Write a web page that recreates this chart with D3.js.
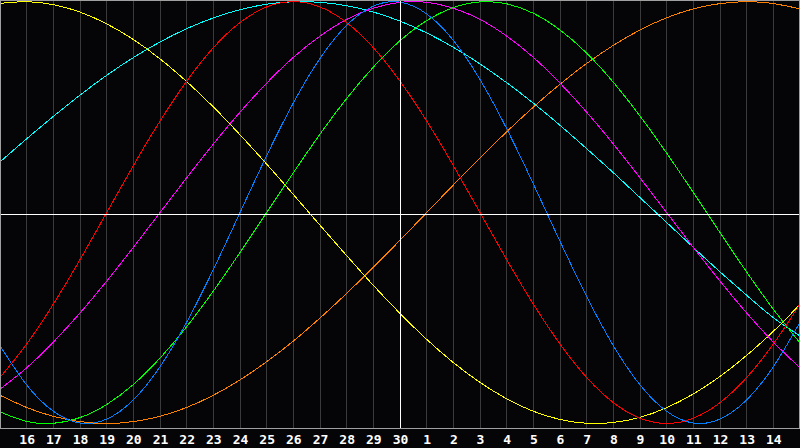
<!DOCTYPE html>
<html><head><meta charset="utf-8">
<script src="https://cdn.jsdelivr.net/npm/d3@7/dist/d3.min.js"></script>
<style>html,body{margin:0;padding:0;background:#050508;overflow:hidden}</style>
</head><body>
<script>
// day labels at grid positions t = 1..29 (t = 0 is day 15, t = 15 is today = 30)
const dayLabels = [16,17,18,19,20,21,22,23,24,25,26,27,28,29,30,1,2,3,4,5,6,7,8,9,10,11,12,13,14];
const todayIndex = 15;
// daily values, t = 0..30
const physical   = [-0.631,-0.817,-0.942,-0.998,-0.979,-0.888,-0.731,-0.520,-0.270,0,0.270,0.520,0.731,0.888,0.979,0.998,0.942,0.817,0.631,0.398,0.136,-0.136,-0.398,-0.631,-0.817,-0.942,-0.998,-0.979,-0.888,-0.731,-0.520];
const emotional  = [-0.782,-0.623,-0.434,-0.223,0,0.223,0.434,0.623,0.782,0.901,0.975,1,0.975,0.901,0.782,0.623,0.434,0.223,0,-0.223,-0.434,-0.623,-0.782,-0.901,-0.975,-1,-0.975,-0.901,-0.782,-0.623,-0.434];
const intellectual = [-0.945,-0.990,-0.999,-0.972,-0.910,-0.815,-0.690,-0.541,-0.372,-0.189,0,0.189,0.372,0.541,0.690,0.815,0.910,0.972,0.999,0.990,0.945,0.866,0.756,0.618,0.458,0.282,0.095,-0.095,-0.282,-0.458,-0.618];
const intuitive  = [-0.837,-0.736,-0.614,-0.476,-0.325,-0.165,0,0.165,0.325,0.476,0.614,0.736,0.837,0.916,0.969,0.997,0.997,0.969,0.916,0.837,0.736,0.614,0.476,0.325,0.165,0,-0.165,-0.325,-0.476,-0.614,-0.736];
const aesthetic  = [0.992,1.000,0.986,0.951,0.895,0.821,0.729,0.621,0.501,0.369,0.230,0.086,-0.060,-0.204,-0.345,-0.478,-0.601,-0.711,-0.805,-0.883,-0.942,-0.981,-0.999,-0.995,-0.971,-0.925,-0.860,-0.777,-0.677,-0.563,-0.436];
const awareness  = [-0.866,-0.924,-0.966,-0.991,-1,-0.991,-0.966,-0.924,-0.866,-0.793,-0.707,-0.609,-0.5,-0.383,-0.259,-0.131,0,0.131,0.259,0.383,0.5,0.609,0.707,0.793,0.866,0.924,0.966,0.991,1,0.991,0.966];
const spiritual  = [0.240,0.350,0.456,0.557,0.651,0.735,0.809,0.872,0.923,0.962,0.988,1.000,0.997,0.981,0.951,0.908,0.852,0.784,0.705,0.616,0.519,0.414,0.303,0.189,0.071,-0.047,-0.165,-0.281,-0.392,-0.498,-0.585];

const series = [
  {name:"awareness", values:awareness, color:"#ff8000"},
  {name:"spiritual", values:spiritual, color:"#00ffff"},
  {name:"aesthetic", values:aesthetic, color:"#ffff00"},
  {name:"intuitive", values:intuitive, color:"#ff00ff"},
  {name:"intellectual", values:intellectual, color:"#00ff00"},
  {name:"emotional", values:emotional, color:"#ff0000"},
  {name:"physical", values:physical, color:"#0080ff"}
];

const W = 800, H = 448, plotB = 428;
const x = d3.scaleLinear().domain([0,30]).range([0,800]);
const y = d3.scaleLinear().domain([-1,1]).range([423.5,1.7]);

const svg = d3.select("body").append("svg").attr("width",W).attr("height",H)
  .style("display","block").style("background","#050508");

svg.append("rect").attr("x",0).attr("y",0).attr("width",W).attr("height",H).attr("fill","#050508");

// vertical grid
svg.append("g").selectAll("line").data(d3.range(1,30)).join("line")
  .attr("x1",d=>Math.floor(x(d))+0.5).attr("x2",d=>Math.floor(x(d))+0.5)
  .attr("y1",0).attr("y2",plotB)
  .attr("stroke","#3a3a3a").attr("stroke-width",1).attr("shape-rendering","crispEdges");

// curves
const line = d3.line().x((d,i)=>x(i)).y(d=>y(d)).curve(d3.curveNatural);
svg.append("g").selectAll("path").data(series).join("path")
  .attr("d",d=>line(d.values)).attr("fill","none").attr("stroke",d=>d.color)
  .attr("stroke-width",1).attr("shape-rendering","crispEdges");

// center lines
const yc = Math.round(y(0)) + 1.5;
svg.append("line").attr("x1",0).attr("x2",W).attr("y1",yc).attr("y2",yc)
  .attr("stroke","#ffffff").attr("stroke-width",1).attr("shape-rendering","crispEdges");
svg.append("line").attr("x1",x(todayIndex)+0.5).attr("x2",x(todayIndex)+0.5).attr("y1",0).attr("y2",plotB)
  .attr("stroke","#ffffff").attr("stroke-width",1).attr("shape-rendering","crispEdges");

// border
svg.append("rect").attr("x",0.5).attr("y",0.5).attr("width",W-1.5).attr("height",plotB-0.5)
  .attr("fill","none").attr("stroke","#a0a0a0").attr("stroke-width",1).attr("shape-rendering","crispEdges");

// labels
svg.append("g").selectAll("text").data(dayLabels).join("text")
  .attr("x",(d,i)=>x(i+1)+0.5).attr("y",443.5)
  .attr("text-anchor","middle").attr("fill","#ffffff")
  .attr("font-family","'DejaVu Sans Mono', monospace").attr("font-weight","bold").attr("font-size","13px")
  .text(d=>d);
</script>
</body></html>
